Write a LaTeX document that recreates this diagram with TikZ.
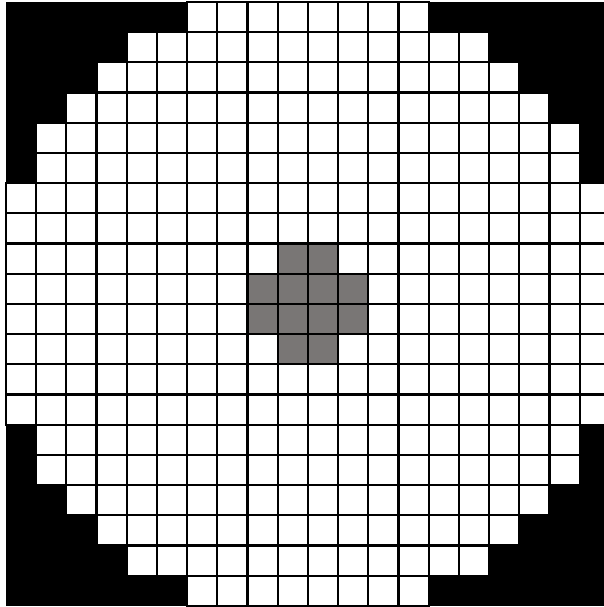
\documentclass[tikz,border=0pt]{standalone}
\definecolor{cellgray}{RGB}{121,118,117}
\tikzset{
  cell/.style={fill=white, draw=black, line width=2.2pt},
  hotcell/.style={fill=cellgray, draw=black, line width=2.2pt}
}
\begin{document}
\begin{tikzpicture}[x=1pt,y=1pt]
\useasboundingbox (0,0) rectangle (604,607);
\clip (0,0) rectangle (604,607);
\fill[white] (0,0) rectangle (604,607);
\fill[black] (5.8,1) rectangle (609.8,605);
\foreach \r/\a/\b in {0/6/13,1/4/15,2/3/16,3/2/17,4/1/18,5/1/18,6/0/19,7/0/19,8/0/19,9/0/19,10/0/19,11/0/19,12/0/19,13/0/19,14/1/18,15/1/18,16/2/17,17/3/16,18/4/15,19/6/13}{
  \foreach \c in {\a,...,\b}{
    \draw[cell] ({5.8+30.2*\c},{605-30.2*\r}) rectangle ({5.8+30.2*(\c+1)},{605-30.2*(\r+1)});
  }
}
\foreach \r/\c in {8/9,8/10,9/8,9/9,9/10,9/11,10/8,10/9,10/10,10/11,11/9,11/10}{
  \draw[hotcell] ({5.8+30.2*\c},{605-30.2*\r}) rectangle ({5.8+30.2*(\c+1)},{605-30.2*(\r+1)});
}
\end{tikzpicture}
\end{document}
